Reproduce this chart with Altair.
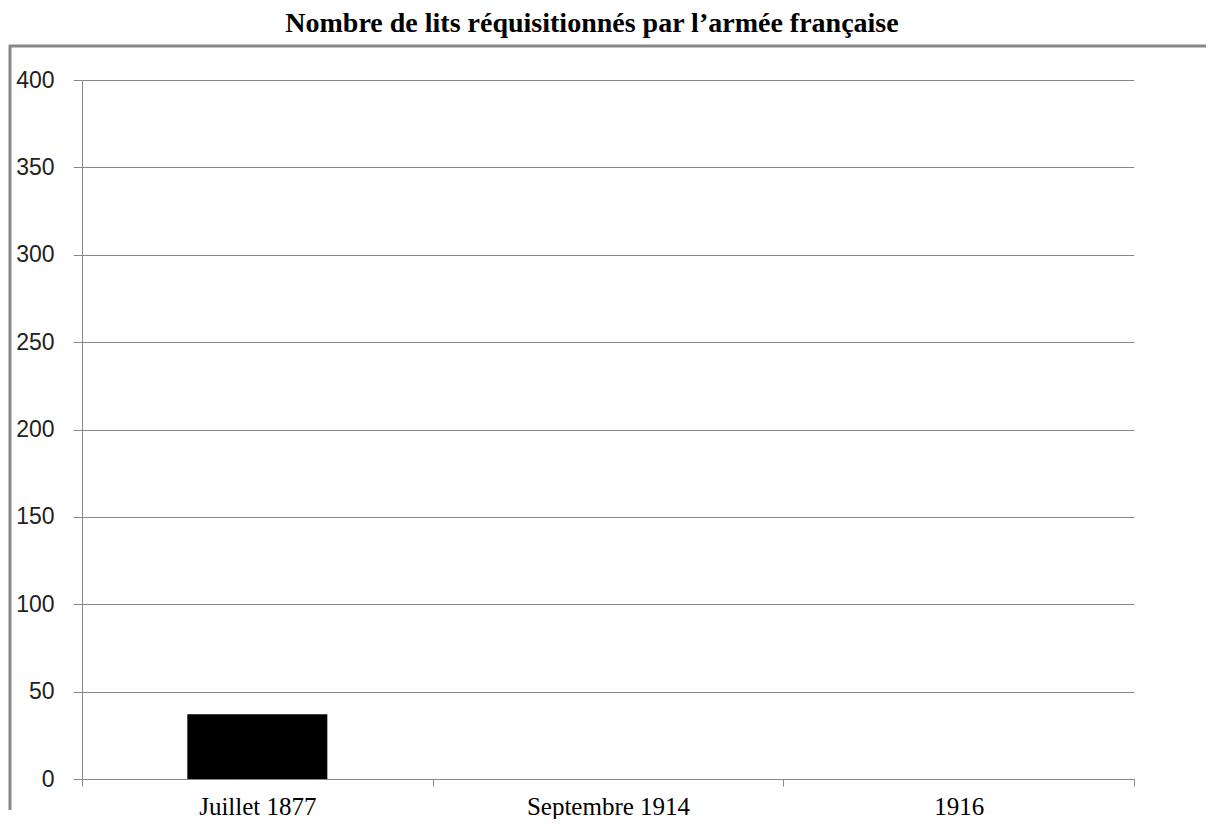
import altair as alt
import pandas as pd

categories = ["Juillet 1877", "Septembre 1914", "1916"]
values = [37, 0, 0]
y_ticks = [0, 50, 100, 150, 200, 250, 300, 350, 400]

df = pd.DataFrame({"periode": categories, "lits": values})

GRAY = "#888888"

base = alt.Chart(df)

bars = base.mark_bar(color="#000000", size=140).encode(
    x=alt.X(
        "periode:N",
        sort=categories,
        title=None,
        scale=alt.Scale(paddingInner=0, paddingOuter=0),
        axis=alt.Axis(
            tickBand="extent",
            tickSize=7,
            tickColor=GRAY,
            domainColor=GRAY,
            labelAngle=0,
            labelFont="Liberation Serif",
            labelFontSize=25,
            labelColor="#000000",
            labelBaseline="alphabetic",
            labelPadding=28,
            grid=False,
        ),
    ),
    y=alt.Y(
        "lits:Q",
        title=None,
        scale=alt.Scale(domain=[0, 400], nice=False),
        axis=alt.Axis(
            values=y_ticks,
            tickSize=9,
            tickColor=GRAY,
            domainColor=GRAY,
            gridColor=GRAY,
            gridWidth=1,
            labelFont="Liberation Sans",
            labelFontSize=23,
            labelColor="#222222",
            labelPadding=19,
        ),
    ),
)

frame_data = alt.Data(values=[{"a": 1}])
top_line = alt.Chart(frame_data).mark_rule(color=GRAY, strokeWidth=3, clip=False).encode(
    x=alt.value(-73), x2=alt.value(1130), y=alt.value(-34)
)
left_line = alt.Chart(frame_data).mark_rule(color=GRAY, strokeWidth=3, clip=False).encode(
    x=alt.value(-72), y=alt.value(-35), y2=alt.value(730)
)

chart = (
    alt.layer(bars, top_line, left_line)
    .properties(
        width=1052,
        height=699,
        title=alt.TitleParams(
            "Nombre de lits réquisitionnés par l’armée française",
            font="Liberation Serif",
            fontSize=28,
            fontWeight="bold",
            color="#000000",
            anchor="middle",
            dx=-16,
            offset=6,
        ),
        autosize=alt.AutoSizeParams(type="none"),
        padding={"left": 74, "top": 72, "right": 72, "bottom": 40},
    )
    .configure_view(stroke=None)
)

chart.save("out.html", embed_options={"renderer": "svg", "actions": False})
